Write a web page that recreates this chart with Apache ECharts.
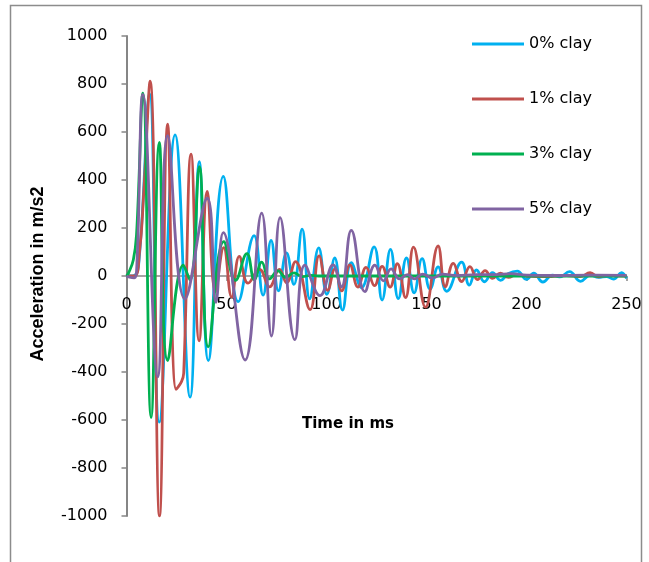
<!DOCTYPE html>
<html>
<head>
<meta charset="utf-8">
<script src="https://cdn.jsdelivr.net/npm/echarts@6/dist/echarts.min.js"></script>
<style>
  html, body { margin: 0; padding: 0; background: #fff; }
  #chart { width: 649px; height: 562px; }
</style>
</head>
<body>
<div id="chart"></div>
<script>
// Acceleration traces (time in ms, acceleration in m/s2), one per clay content
const seriesNames = ['0% clay', '1% clay', '3% clay', '5% clay'];
const seriesColors = ['#00B0F0', '#C0504D', '#00B050', '#8064A2'];

const clay0 = [
  [0,0],[3,0],[6,40],[11.5,760],[16.4,-609],[24.3,588],[31.8,-505],[36.4,476],[40.9,-352],
  [48.4,415],[55.9,-107],[63.8,168],[68.3,-80],[72.3,148],[76,-62],[80,96],[83.7,-35],
  [87.8,195],[91.6,-95],[96.1,117],[100.2,-76],[104.1,75],[108,-142],[112.4,56],[117.5,-48],
  [123.8,121],[127.8,-100],[132,111],[135.9,-94],[140,75],[143.8,-70],[147.8,72],[151.8,-55],
  [155.8,38],[160.1,-64],[167.6,58],[171.4,-38],[175,25],[179,-24],[183,14],[187,-18],[191,10],
  [195.4,20],[200,-14],[203.6,12],[208.2,-25],[213,4],[216.5,-4],[221.5,18],[227,-22],[232,4],
  [236,-6],[240,-2],[243.5,-13],[247.5,14],[250,-10]
];

const clay1 = [
  [0,0],[4,0],[6.5,100],[8.5,330],[11.8,812],[16.5,-1000],[20.6,633],[24.8,-472],[27.5,-440],
  [28.6,-405],[32.3,508],[36.3,-270],[40.4,352],[44.5,-65],[48.6,118],[52.6,-88],[56.4,82],
  [60.8,-30],[66.5,28],[71.5,-45],[76.5,28],[80,-28],[84.5,60],[91.8,-140],[96.3,84],[100.6,-60],
  [104.2,30],[107.6,-62],[111.7,46],[115.7,-46],[119.8,36],[124,-40],[127.8,40],[131.8,-46],
  [135.4,51],[139.5,-90],[143.5,120],[149.5,-130],[155.8,125],[159.4,-45],[163.4,53],[167.6,-23],
  [171.7,39],[175.5,-15],[179.3,22],[183,-10],[187,12],[191,-6],[195,6],[200,0],[210,-3],[220,2],
  [227,-3],[231.8,14],[236,-4],[240,2],[250,0]
];

const clay3 = [
  [0,0],[1,12],[3.4,67],[5,170],[8.2,762],[12.3,-590],[16.4,557],[20.6,-352],[28.4,45],
  [31.8,-18],[36.4,456],[40.9,-295],[48.7,143],[54.5,-18],[60.2,93],[64,-16],[67.6,58],
  [71.5,-12],[75.8,21],[79.5,-6],[83.7,13],[88,-3],[92,3],[96,0],[150,0],[200,0],[250,0]
];

const clay5 = [
  [0,0],[1.5,-5],[3.8,-8],[5.2,50],[8.2,757],[15.6,-420],[20.6,585],[29.2,-96],[40.4,324],
  [44.7,-110],[48.4,181],[59.3,-350],[67.6,262],[72.5,-250],[76.8,243],[84.2,-265],[89.2,45],
  [96.8,-82],[103.3,46],[107.4,-46],[112.4,190],[119.2,-65],[124.2,45],[128.5,-20],[132.3,30],
  [136.5,-12],[140.5,6],[144,-12],[148,8],[153,-8],[158,8],[165,2],[175,6],[185,6],[192,10],
  [200,4],[215,2],[230,4],[250,3]
];

const seriesData = [clay0, clay1, clay3, clay5];

// Axis ranges and titles
const xMin = 0, xMax = 250, xStep = 50;
const yMin = -1000, yMax = 1000, yStep = 200;
const xTitle = 'Time in ms';
const yTitle = 'Acceleration in m/s2';

const axisGray = '#868686';
const labelFont = '"DejaVu Sans", sans-serif';

// Plot box; the time axis is lifted to the y = 0 line
const gridTop = 36, gridBottom = 46, chartHeight = 562;
const plotHeight = chartHeight - gridTop - gridBottom;
const zeroOffset = -plotHeight * (0 - yMin) / (yMax - yMin);

const chart = echarts.init(document.getElementById('chart'), null, { renderer: 'canvas' });

chart.setOption({
  animation: false,
  backgroundColor: '#ffffff',
  grid: { left: 126.5, right: 22.5, top: gridTop, bottom: gridBottom, containLabel: false },
  legend: {
    orient: 'vertical',
    left: 467,
    top: 31,
    icon: 'rect',
    itemWidth: 52,
    itemHeight: 3,
    itemGap: 39,
    textStyle: { fontFamily: labelFont, fontSize: 16, color: '#000' },
    data: seriesNames
  },
  xAxis: {
    type: 'value',
    min: xMin, max: xMax, interval: xStep,
    offset: zeroOffset,
    axisLine: { onZero: false, lineStyle: { color: axisGray, width: 1.5 } },
    axisTick: { show: true, length: 5, lineStyle: { color: axisGray, width: 1.5 } },
    axisLabel: { fontFamily: labelFont, fontSize: 16, color: '#000', margin: 21 },
    splitLine: { show: false }
  },
  yAxis: {
    type: 'value',
    min: yMin, max: yMax, interval: yStep,
    axisLine: { show: true, lineStyle: { color: axisGray, width: 2 } },
    axisTick: { show: true, length: 5, lineStyle: { color: axisGray, width: 1.5 } },
    axisLabel: {
      fontFamily: labelFont, fontSize: 16, color: '#000', margin: 19,
      formatter: v => String(v)
    },
    splitLine: { show: false }
  },
  series: seriesData.map((d, i) => ({
    name: seriesNames[i],
    type: 'line',
    data: d,
    smooth: 0.45,
    symbol: 'none',
    lineStyle: { color: seriesColors[i], width: 2.8 },
    itemStyle: { color: seriesColors[i] }
  })),
  graphic: [
    {
      type: 'rect',
      shape: { x: 10.5, y: 5.5, width: 631, height: 620 },
      style: { fill: 'none', stroke: '#8c8c8c', lineWidth: 1.5 },
      silent: true
    },
    {
      type: 'text',
      x: 348, y: 424,
      style: {
        text: xTitle, align: 'center', verticalAlign: 'middle',
        font: 'bold 15px "DejaVu Sans", sans-serif', fill: '#000'
      }
    },
    {
      type: 'text',
      x: 38, y: 274,
      rotation: Math.PI / 2,
      style: {
        text: yTitle, align: 'center', verticalAlign: 'middle',
        font: 'bold 18px "Liberation Sans", sans-serif', fill: '#000'
      }
    }
  ]
});
</script>
</body>
</html>
